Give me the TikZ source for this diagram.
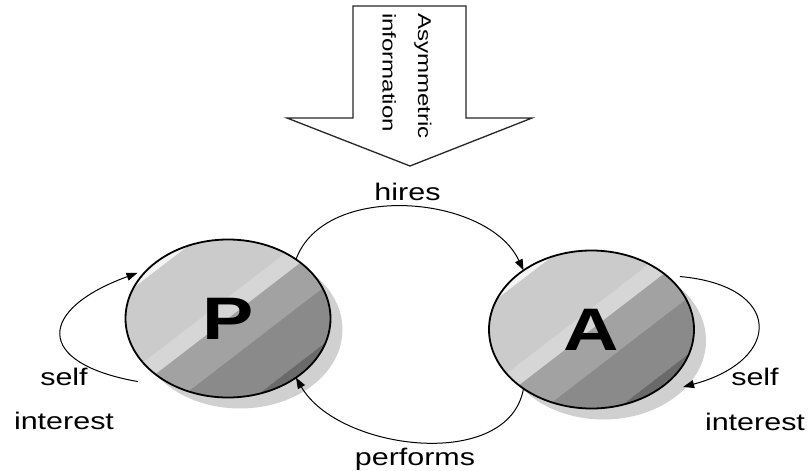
\documentclass[tikz,border=0pt]{standalone}
\usepackage{fontspec}
\setmainfont{Liberation Sans}
\usetikzlibrary{shapes.geometric,arrows.meta}
\definecolor{bandW}{HTML}{F4F4F4}
\definecolor{bandL}{HTML}{CBCBCB}
\definecolor{bandS}{HTML}{D6D6D6}
\definecolor{bandM}{HTML}{A2A2A2}
\definecolor{bandD}{HTML}{8A8A8A}
\definecolor{bandX}{HTML}{6A6A6A}
\definecolor{shadowc}{HTML}{D0D0D0}
\newcommand{\hstretch}[1]{\scalebox{1.27}[1]{#1}}
\newcommand{\bigstretch}[1]{\scalebox{1.28}[1]{#1}}
\newcommand{\rotstretch}[1]{\scalebox{1.3}[1]{#1}}
\newcommand{\drawbands}[1]{%
  \begin{scope}
    \clip (#1) ellipse [x radius=102.5, y radius=79];
    \begin{scope}[shift={(#1)}, xscale=1.3, rotate=-45]
      \fill[bandW] (-130,-130) rectangle (-73,130);
      \fill[bandL] (-73,-130) rectangle (-15,130);
      \fill[bandS] (-15,-130) rectangle (0,130);
      \fill[bandM] (0,-130) rectangle (30,130);
      \fill[bandD] (30,-130) rectangle (70,130);
      \fill[bandX] (70,-130) rectangle (130,130);
    \end{scope}
  \end{scope}}
\begin{document}
\begin{tikzpicture}[x=1pt,y=1pt,
  ball/.style={ellipse, draw=black, line width=1.8pt,
    minimum width=205pt, minimum height=158pt, inner sep=0pt, outer sep=0pt,
    font=\fontsize{60}{60}\selectfont\bfseries},
  shadowfill/.style={fill=shadowc},
  conn/.style={draw=black, line width=1pt, -{Triangle[length=11pt,width=8pt]}},
  lbl/.style={font=\fontsize{24}{24}\selectfont, inner sep=0pt, outer sep=0pt, anchor=base},
  rotlbl/.style={font=\fontsize{18.5}{18.5}\selectfont, inner sep=0pt, outer sep=0pt, anchor=base west, rotate=-90},
  blockarrow/.style={draw=black!85, line width=1.3pt, fill=white, line join=miter}
]
\useasboundingbox (0,0) rectangle (809,-471);

% block arrow
\draw[blockarrow] (353,-6) -- (466,-6) -- (466,-118) -- (532,-118) -- (410,-166)
  -- (287,-118) -- (353,-118) -- cycle;
\node[rotlbl] (asym) at (418,-13) {\rotstretch{Asymmetric}};
\node[rotlbl] (info) at (382.5,-13) {\rotstretch{information}};

% centres, shadows and shaded bands
\coordinate (pc) at (228,-318.5);
\coordinate (ac) at (591.5,-329.5);
\fill[shadowfill] ([shift={(12,-11)}]pc) ellipse [x radius=102.5, y radius=79];
\fill[shadowfill] ([shift={(12,-11)}]ac) ellipse [x radius=102.5, y radius=79];
\drawbands{pc}
\drawbands{ac}

% balls
\node[ball] (P) at (pc) {\bigstretch{P}};
\node[ball] (A) at (ac) {\bigstretch{A}};

% connectors
\draw[conn] (P.41) to[out=70, in=115, looseness=0.94] (A.139);
\draw[conn] (A.221) to[out=-100, in=-60, looseness=0.95] (P.-41);
\draw[conn] ([shift={(-14,-10)}]P.215) to[out=170, in=200, looseness=2.5] ([shift={(-5,2)}]P.153);
\draw[conn] ([shift={(7.5,4.4)}]A.31) to[out=-5, in=15, looseness=2.4] ([shift={(12,-7.7)}]A.-32);

% labels
\node[lbl] (hires) at (407.5,-200.5) {\hstretch{hires}};
\node[lbl] (performs) at (415,-465) {\hstretch{performs}};
\node[lbl] (selfP) at (64,-385) {\hstretch{self}};
\node[lbl] (intP) at (64,-429.5) {\hstretch{interest}};
\node[lbl] (selfA) at (755,-385) {\hstretch{self}};
\node[lbl] (intA) at (755,-430) {\hstretch{interest}};
\end{tikzpicture}
\end{document}
